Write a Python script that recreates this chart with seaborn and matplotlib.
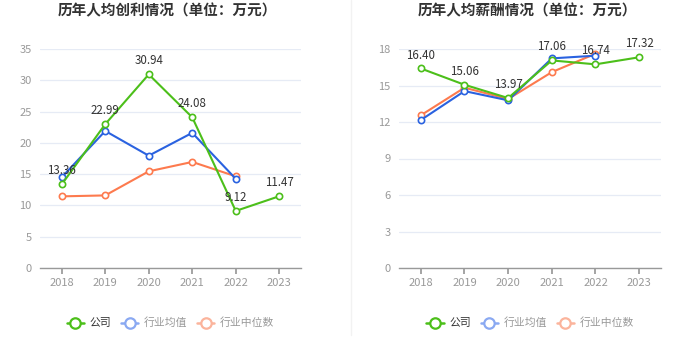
import matplotlib
matplotlib.use("Agg")
import matplotlib.pyplot as plt
from matplotlib.lines import Line2D
import seaborn as sns
import pandas as pd

sns.set_theme(style="white")
plt.rcParams['font.family'] = ['Noto Sans CJK SC', 'DejaVu Sans']

years = ["2018", "2019", "2020", "2021", "2022", "2023"]
series_names = ["公司", "行业均值", "行业中位数"]

profit_company = [13.36, 22.99, 30.94, 24.08, 9.12, 11.47]
profit_avg = [14.5, 21.9, 17.95, 21.6, 14.25, None]
profit_median = [11.45, 11.6, 15.45, 16.95, 14.65, None]

salary_company = [16.40, 15.06, 13.97, 17.06, 16.74, 17.32]
salary_avg = [12.16, 14.54, 13.78, 17.23, 17.45, None]
salary_median = [12.55, 14.82, 13.89, 16.1, 17.61, None]

titles = ["历年人均创利情况（单位：万元）", "历年人均薪酬情况（单位：万元）"]
yticks_list = [[0, 5, 10, 15, 20, 25, 30, 35], [0, 3, 6, 9, 12, 15, 18]]

colors = ["#4cbf1a", "#2a62e0", "#fd7a4e"]
legend_colors = ["#4cbf1a", "#8aa9f2", "#fbb49c"]
legend_text_colors = ["#333333", "#999999", "#999999"]

W, H = 700, 360
fig = plt.figure(figsize=(7, 3.6), dpi=100)

panels = [
    (40, 301, [profit_company, profit_avg, profit_median], 167),
    (399, 661, [salary_company, salary_avg, salary_median], 527),
]

for i, (x0, x1, data, tcx) in enumerate(panels):
    ax = fig.add_axes([x0 / W, (H - 268) / H, (x1 - x0) / W, 219 / H])
    rows = []
    for name, vals in zip(series_names, data):
        for j, (yr, v) in enumerate(zip(years, vals)):
            if v is not None:
                rows.append({"idx": j, "value": v, "series": name})
    df = pd.DataFrame(rows)
    for k in [2, 1, 0]:
        sub = df[df["series"] == series_names[k]]
        sns.lineplot(data=sub, x="idx", y="value", ax=ax, color=colors[k],
                     linewidth=1.5, marker="o", markersize=4.5,
                     markerfacecolor="white", markeredgecolor=colors[k],
                     markeredgewidth=1.2, legend=False, zorder=3 + (2 - k))
    for j, v in enumerate(data[0]):
        ax.annotate(f"{v:.2f}", (j, v), xytext=(0, 5), textcoords="offset points",
                    ha="center", va="bottom", fontsize=8.3, color="#333333", zorder=10)
    yt = yticks_list[i]
    ax.set_ylim(yt[0], yt[-1])
    ax.set_xlim(-0.5, 5.5)
    ax.set_yticks(yt)
    ax.set_yticklabels([str(t) for t in yt], fontsize=8, color="#999999")
    ax.set_xticks(range(len(years)))
    ax.set_xticklabels(years, fontsize=8, color="#999999")
    ax.set_xlabel("")
    ax.set_ylabel("")
    ax.grid(axis="y", color="#e6ebf5", linewidth=0.9)
    ax.set_axisbelow(True)
    for s in ["top", "right", "left"]:
        ax.spines[s].set_visible(False)
    ax.spines["bottom"].set_color("#999999")
    ax.spines["bottom"].set_linewidth(1)
    ax.tick_params(axis="x", length=4, color="#999999", pad=3, direction="out", bottom=True)
    ax.tick_params(axis="y", length=0, pad=6)
    fig.text(tcx / W, 1 - 10 / H, titles[i], ha="center", va="center",
             fontsize=10.5, fontweight="bold", color="#333333")
    handles = [Line2D([0], [0], color=c, linewidth=1.8, marker="o", markersize=7.5,
                      markerfacecolor="white", markeredgecolor=c, markeredgewidth=1.6)
               for c in legend_colors]
    leg = ax.legend(handles, series_names, loc="center", bbox_to_anchor=(0.5, -0.251),
                    ncol=3, frameon=False, fontsize=7.8, handlelength=1.6,
                    handletextpad=0.5, columnspacing=0.9)
    for t, tc in zip(leg.get_texts(), legend_text_colors):
        t.set_color(tc)

fig.add_artist(Line2D([351 / W, 351 / W], [(H - 335) / H, 1], color="#f2f2f2", linewidth=1))

fig.savefig("out.png", dpi=100, facecolor="white")
